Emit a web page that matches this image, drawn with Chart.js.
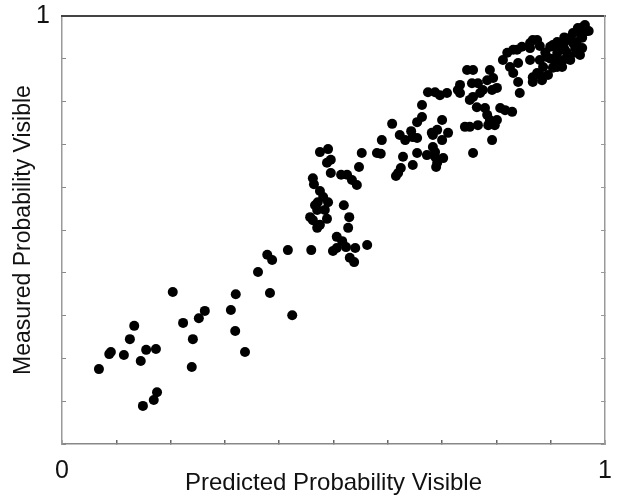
<!DOCTYPE html>
<html>
<head>
<meta charset="utf-8">
<script src="https://cdn.jsdelivr.net/npm/chart.js@4"></script>
<style>
  html, body { margin: 0; padding: 0; background: #fff; }
  #wrap { width: 621px; height: 495px; }
</style>
</head>
<body>
<div id="wrap"><canvas id="scatter" width="621" height="495"></canvas></div>
<script>
// values (predicted = x, measured = y)
const predicted = [
  0.068, 0.087, 0.090, 0.114, 0.133, 0.125, 0.145, 0.155, 0.173, 0.149,
  0.169, 0.175, 0.204, 0.223, 0.241, 0.252, 0.263, 0.239, 0.311, 0.320,
  0.319, 0.337, 0.361, 0.383, 0.424, 0.378, 0.387, 0.416, 0.459,
  0.475, 0.490, 0.495, 0.488, 0.495, 0.514, 0.525, 0.534, 0.543, 0.547,
  0.552, 0.580, 0.462, 0.464, 0.475, 0.481, 0.471, 0.466, 0.490, 0.484,
  0.470, 0.457, 0.462, 0.475, 0.488, 0.470, 0.519, 0.529, 0.527, 0.506,
  0.516, 0.499, 0.523, 0.540, 0.562, 0.530, 0.538, 0.506,
  0.589, 0.587, 0.622, 0.632, 0.628, 0.619, 0.624, 0.646, 0.654, 0.646,
  0.643, 0.654, 0.672, 0.687, 0.683, 0.700, 0.702, 0.689, 0.608, 0.663,
  0.663, 0.654, 0.674, 0.696, 0.709, 0.681, 0.691, 0.700, 0.711, 0.683,
  0.687, 0.615, 0.742, 0.751, 0.757, 0.687, 0.691,
  0.733, 0.733, 0.757, 0.764, 0.746, 0.757, 0.766, 0.755, 0.788, 0.794,
  0.783, 0.775, 0.792, 0.801, 0.751, 0.779, 0.783, 0.807, 0.816, 0.829,
  0.801, 0.766, 0.785, 0.797, 0.792, 0.729, 0.770, 0.788,
  0.820, 0.831, 0.847, 0.862, 0.812, 0.825, 0.840, 0.862, 0.875, 0.867,
  0.831, 0.840, 0.843, 0.875, 0.862, 0.838, 0.886, 0.867, 0.884, 0.895,
  0.912, 0.923, 0.936, 0.948, 0.926, 0.941, 0.954, 0.963, 0.950, 0.899,
  0.912, 0.893, 0.880, 0.959, 0.963, 0.941, 0.958, 0.936, 0.948, 0.923,
  0.958, 0.904, 0.912, 0.930, 0.954, 0.912, 0.904, 0.921, 0.880, 0.917,
  0.930, 0.867, 0.880, 0.890, 0.900, 0.945, 0.935, 0.970, 0.925
];
const measured = [
  0.175, 0.210, 0.215, 0.208, 0.276, 0.245, 0.194, 0.220, 0.222, 0.089,
  0.103, 0.121, 0.355, 0.283, 0.245, 0.294, 0.311, 0.180, 0.313, 0.350,
  0.264, 0.215, 0.402, 0.353, 0.301, 0.442, 0.430, 0.453, 0.453,
  0.682, 0.689, 0.664, 0.657, 0.633, 0.629, 0.629, 0.617, 0.605, 0.647,
  0.680, 0.680, 0.621, 0.607, 0.591, 0.577, 0.565, 0.558, 0.565, 0.547,
  0.547, 0.530, 0.523, 0.512, 0.526, 0.505, 0.558, 0.530, 0.505, 0.484,
  0.474, 0.451, 0.460, 0.458, 0.465, 0.435, 0.425, 0.458,
  0.710, 0.678, 0.722, 0.710, 0.671, 0.633, 0.645, 0.652, 0.680, 0.717,
  0.731, 0.715, 0.675, 0.682, 0.722, 0.710, 0.668, 0.647, 0.748, 0.792,
  0.764, 0.752, 0.822, 0.815, 0.820, 0.727, 0.734, 0.757, 0.727, 0.694,
  0.671, 0.626, 0.741, 0.741, 0.680, 0.822, 0.657,
  0.839, 0.820, 0.811, 0.787, 0.874, 0.874, 0.843, 0.843, 0.874, 0.855,
  0.850, 0.827, 0.827, 0.832, 0.804, 0.785, 0.769, 0.785, 0.780, 0.776,
  0.757, 0.745, 0.745, 0.745, 0.710, 0.827, 0.820, 0.757,
  0.914, 0.921, 0.928, 0.925, 0.897, 0.881, 0.890, 0.897, 0.867, 0.857,
  0.867, 0.846, 0.820, 0.944, 0.937, 0.921, 0.881, 0.846, 0.850, 0.862,
  0.881, 0.897, 0.897, 0.914, 0.921, 0.937, 0.960, 0.979, 0.972, 0.928,
  0.939, 0.904, 0.897, 0.974, 0.963, 0.960, 0.949, 0.949, 0.939, 0.932,
  0.925, 0.932, 0.914, 0.914, 0.909, 0.893, 0.879, 0.881, 0.862, 0.925,
  0.944, 0.944, 0.930, 0.915, 0.900, 0.925, 0.905, 0.965, 0.950
];
const axisEndLabels = ['0', '1'];
const xTitle = 'Predicted Probability Visible';
const yTitle = 'Measured Probability Visible';

const points = predicted.map((p, i) => ({ x: p, y: measured[i] }));
const lastTick = t => t.length - 1;

// fix each axis box so the plot area lands where the original has it
const fixBox = (w, h) => s => {
  if (w !== null) s.width = w;
  if (h !== null) s.height = h;
  s.paddingLeft = 0; s.paddingRight = 0;
  s.paddingTop = 0; s.paddingBottom = 0;
};

const ctx = document.getElementById('scatter').getContext('2d');
new Chart(ctx, {
  type: 'scatter',
  data: {
    datasets: [{
      data: points,
      backgroundColor: '#000',
      borderWidth: 0,
      pointRadius: 5,
      pointHoverRadius: 5
    }]
  },
  options: {
    responsive: false,
    animation: false,
    layout: { padding: 0 },
    plugins: { legend: { display: false }, tooltip: { enabled: false } },
    scales: {
      x: {
        type: 'linear', position: 'bottom', min: 0, max: 1,
        afterFit: fixBox(null, 51),
        border: { color: '#888', width: 1.5 },
        grid: { drawOnChartArea: false, tickLength: -4, color: '#666', lineWidth: 1.5 },
        ticks: {
          stepSize: 0.1, padding: 16, maxRotation: 0, autoSkip: false,
          color: '#111', font: { family: 'Liberation Sans', size: 25 },
          callback: (v, i, t) => i === 0 ? axisEndLabels[0] : (i === lastTick(t) ? axisEndLabels[1] : '')
        },
        title: {
          display: true, text: xTitle, color: '#111',
          font: { family: 'Liberation Sans', size: 24, lineHeight: 1 }, padding: { top: 0, bottom: 0 }
        }
      },
      y: {
        type: 'linear', position: 'left', min: 0, max: 1,
        afterFit: fixBox(62, null),
        border: { color: '#999', width: 1.5 },
        grid: { drawOnChartArea: false, tickLength: -4, color: '#888', lineWidth: 1 },
        ticks: {
          stepSize: 0.1, padding: 16, autoSkip: false,
          color: '#111', font: { family: 'Liberation Sans', size: 25 },
          callback: (v, i, t) => i === lastTick(t) ? axisEndLabels[1] : ''
        },
        title: {
          display: true, text: yTitle, color: '#111',
          font: { family: 'Liberation Sans', size: 23 }, padding: { top: 10, bottom: 0 }
        }
      },
      x2: {
        type: 'linear', position: 'top', min: 0, max: 1,
        afterFit: fixBox(null, 16),
        border: { color: '#444', width: 2 },
        grid: { drawOnChartArea: false, drawTicks: false },
        ticks: { display: false }
      },
      y2: {
        type: 'linear', position: 'right', min: 0, max: 1,
        afterFit: fixBox(16, null),
        border: { color: '#999', width: 1.5 },
        grid: { drawOnChartArea: false, tickLength: -4, color: '#999', lineWidth: 1 },
        ticks: { display: false, stepSize: 0.1 }
      }
    }
  }
});
</script>
</body>
</html>
